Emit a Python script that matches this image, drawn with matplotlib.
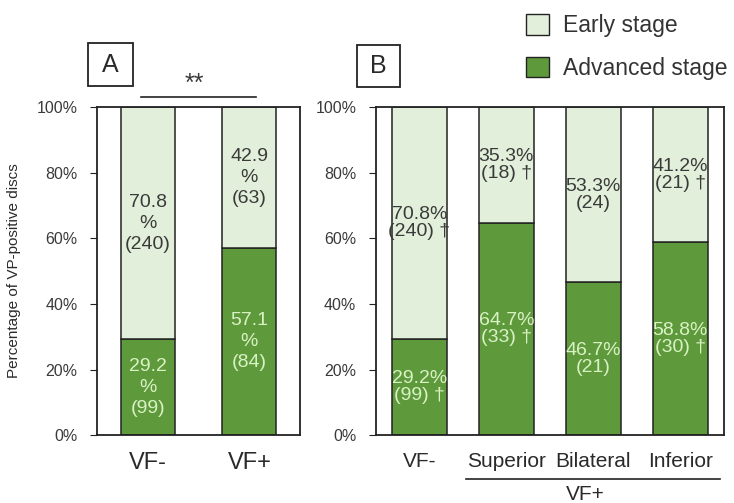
import matplotlib
matplotlib.use("Agg")
import matplotlib.pyplot as plt
from matplotlib.patches import Patch, Rectangle

plt.rcParams['font.family'] = ['Liberation Sans', 'DejaVu Sans']

# panel A data
a_groups = ['VF-', 'VF+']
a_adv = [29.2, 57.1]
a_early = [70.8, 42.9]
a_adv_n = [99, 84]
a_early_n = [240, 63]

# panel B data
b_groups = ['VF-', 'Superior', 'Bilateral', 'Inferior']
b_adv = [29.2, 64.7, 46.7, 58.8]
b_early = [70.8, 35.3, 53.3, 41.2]
b_adv_n = [99, 33, 21, 30]
b_early_n = [240, 18, 24, 21]
b_adv_sig = [True, True, False, True]
b_early_sig = [True, True, False, True]

c_early = '#e2efda'
c_adv = '#5e9a3c'
c_txt_light = '#d9f2c4'
c_txt = '#3a3a3a'
c_line = '#222222'

fig = plt.figure(figsize=(7.34, 5.03), dpi=100)
axA = fig.add_axes([0.132, 0.135, 0.277, 0.652])
axB = fig.add_axes([0.512, 0.135, 0.474, 0.652])


def style_axis(ax, n, labelsize):
    ax.set_ylim(0, 100)
    ax.set_xlim(-0.5, n - 0.5)
    ax.set_yticks([0, 20, 40, 60, 80, 100])
    ax.set_yticklabels(['0%', '20%', '40%', '60%', '80%', '100%'])
    ax.tick_params(axis='y', labelsize=11.5, colors=c_line, length=5,
                   labelcolor='#3a3a3a', pad=9)
    ax.tick_params(axis='x', length=0, labelsize=labelsize, pad=12,
                   labelcolor='#2a2a2a')
    for s in ax.spines.values():
        s.set_color(c_line)
        s.set_linewidth(1.3)


def label_box(x0, y0, x1, y1, letter):
    # box in pixel coords (from top-left), converted to figure fraction
    W, H = 734.0, 503.0
    fig.patches.append(Rectangle((x0 / W, 1 - y1 / H), (x1 - x0) / W,
                                 (y1 - y0) / H, transform=fig.transFigure,
                                 fc='white', ec=c_line, lw=1.3))
    fig.text((x0 + x1) / 2 / W, 1 - (y0 + y1) / 2 / H, letter, ha='center',
             va='center', fontsize=18, color='#2a2a2a')


# panel A
xa = range(len(a_groups))
axA.bar(xa, a_adv, width=0.53, color=c_adv, edgecolor=c_line, linewidth=1.1)
axA.bar(xa, a_early, bottom=a_adv, width=0.53, color=c_early,
        edgecolor=c_line, linewidth=1.1)
for i in xa:
    axA.text(i, a_adv[i] / 2, '%.1f\n%%\n(%d)' % (a_adv[i], a_adv_n[i]),
             ha='center', va='center', fontsize=14, color=c_txt_light,
             linespacing=1.3)
    axA.text(i, a_adv[i] + a_early[i] / 2,
             '%.1f\n%%\n(%d)' % (a_early[i], a_early_n[i]),
             ha='center', va='center', fontsize=14, color=c_txt,
             linespacing=1.3)
style_axis(axA, len(a_groups), 17)
axA.set_xticks(list(xa))
axA.set_xticklabels(a_groups)
axA.set_ylabel('Percentage of VP-positive discs', fontsize=11, color='#2a2a2a')
axA.yaxis.set_label_coords(-0.375, 0.5)

# significance mark
axA.plot([0.217, 0.783], [1.03, 1.03], transform=axA.transAxes, color=c_line,
         lw=1.2, clip_on=False)
axA.text(0.48, 1.035, '**', transform=axA.transAxes, ha='center', va='bottom',
         fontsize=18, color='#3a3a3a')
label_box(88, 43, 133, 86, 'A')

# panel B
xb = range(len(b_groups))
axB.bar(xb, b_adv, width=0.63, color=c_adv, edgecolor=c_line, linewidth=1.1)
axB.bar(xb, b_early, bottom=b_adv, width=0.63, color=c_early,
        edgecolor=c_line, linewidth=1.1)
for i in xb:
    d1 = ' \u2020' if b_adv_sig[i] else ''
    d2 = ' \u2020' if b_early_sig[i] else ''
    axB.text(i, b_adv[i] / 2, '%.1f%%\n(%d)%s' % (b_adv[i], b_adv_n[i], d1),
             ha='center', va='center', fontsize=14, color=c_txt_light,
             linespacing=1.0)
    axB.text(i, b_adv[i] + b_early[i] / 2,
             '%.1f%%\n(%d)%s' % (b_early[i], b_early_n[i], d2),
             ha='center', va='center', fontsize=14, color=c_txt,
             linespacing=1.0)
style_axis(axB, len(b_groups), 15)
axB.set_xticks(list(xb))
axB.set_xticklabels(b_groups)

axB.plot([0.26, 0.99], [-0.134, -0.134], transform=axB.transAxes,
         color=c_line, lw=1.2, clip_on=False)
axB.text(0.603, -0.152, 'VF+', transform=axB.transAxes, ha='center',
         va='top', fontsize=15, color='#2a2a2a')
label_box(357, 45, 400, 87, 'B')

handles = [Patch(facecolor=c_early, edgecolor=c_line, label='Early stage'),
           Patch(facecolor=c_adv, edgecolor=c_line, label='Advanced stage')]
fig.legend(handles=handles, loc='upper left', bbox_to_anchor=(0.717, 0.972),
           frameon=False, fontsize=16.5, handlelength=1.0, handleheight=1.0,
           labelspacing=0.85, handletextpad=0.6, borderpad=0,
           borderaxespad=0, labelcolor='#333333')

fig.savefig('out.png', dpi=100)
